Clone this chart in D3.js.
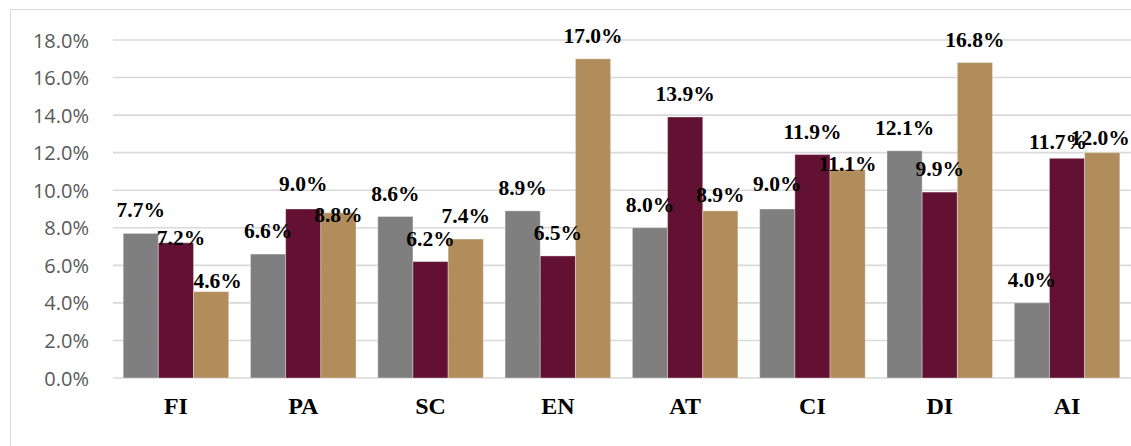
<!DOCTYPE html>
<html>
<head>
<meta charset="utf-8">
<script src="https://cdn.jsdelivr.net/npm/d3@7/dist/d3.min.js"></script>
<style>
  html, body { margin: 0; padding: 0; background: #ffffff; }
  svg { display: block; }
</style>
</head>
<body>
<svg id="chart" width="1131" height="446"></svg>
<script>
// ---- data ----
const categories = ["FI", "PA", "SC", "EN", "AT", "CI", "DI", "AI"];
const seriesNames = ["s1", "s2", "s3"];
const series1 = [7.7, 6.6, 8.6, 8.9, 8.0, 9.0, 12.1, 4.0];
const series2 = [7.2, 9.0, 6.2, 6.5, 13.9, 11.9, 9.9, 11.7];
const series3 = [4.6, 8.8, 7.4, 17.0, 8.9, 11.1, 16.8, 12.0];
const yTicks = [0, 2, 4, 6, 8, 10, 12, 14, 16, 18];

// ---- style / layout ----
const colors = { s1: "#7f7f7f", s2: "#621132", s3: "#b08d5b" };
// label nudges (px) to mimic the manually placed data labels of the original
const labelNudge = {
  "FI-s2": [5, 18], "FI-s3": [6.5, 12], "PA-s3": [0, 25], "PA-s2": [0, -2],
  "AT-s3": [0, 7], "CI-s3": [0, 17.5], "CI-s1": [0, -2],
  "AI-s2": [-9, 7], "AI-s3": [-2, 8]
};

const values = { s1: series1, s2: series2, s3: series3 };
const rows = categories.map((c, i) => ({
  cat: c,
  vals: seriesNames.map(s => ({ cat: c, key: s, v: values[s][i] }))
}));

const svg = d3.select("#chart");

// chart border
svg.append("rect")
  .attr("x", 10.5).attr("y", 9.5)
  .attr("width", 1140).attr("height", 460)
  .attr("fill", "none").attr("stroke", "#d9d9d9").attr("stroke-width", 1);

const plotLeft = 113, plotRight = 1130, plotTop = 40, plotBottom = 378;

const y = d3.scaleLinear().domain([0, 18]).range([plotBottom, plotTop]);
const x0 = d3.scaleBand().domain(categories).range([plotLeft, plotRight])
  .paddingInner(0.171).paddingOuter(0.08);
const x1 = d3.scaleBand().domain(seriesNames).range([0, x0.bandwidth()]);

// gridlines
svg.append("g").selectAll("line").data(yTicks).join("line")
  .attr("x1", plotLeft).attr("x2", 1131)
  .attr("y1", d => y(d)).attr("y2", d => y(d))
  .attr("stroke", "#d9d9d9").attr("stroke-width", 1.6);

// y axis labels
const yAxis = d3.axisLeft(y).tickValues(yTicks).tickSize(0).tickPadding(0)
  .tickFormat(d => d.toFixed(1) + "%");
const ya = svg.append("g").attr("transform", "translate(89,0)").call(yAxis);
ya.select(".domain").remove();
ya.selectAll("text")
  .attr("font-family", "'Open Sans', sans-serif")
  .attr("font-size", 20)
  .attr("fill", "#595959")
  .attr("dy", "0.35em");

// x axis labels
const xAxis = d3.axisBottom(x0).tickSize(0).tickPadding(0);
const xa = svg.append("g").attr("transform", "translate(0,414)").call(xAxis);
xa.select(".domain").remove();
xa.selectAll("text")
  .attr("font-family", "'Liberation Serif', 'Times New Roman', serif")
  .attr("font-weight", "bold")
  .attr("font-size", 24)
  .attr("fill", "#000")
  .attr("dy", 0);

// bars
const groups = svg.append("g").selectAll("g").data(rows).join("g")
  .attr("transform", d => `translate(${x0(d.cat)},0)`);

groups.selectAll("rect").data(d => d.vals).join("rect")
  .attr("x", d => x1(d.key))
  .attr("y", d => y(d.v))
  .attr("width", x1.bandwidth())
  .attr("height", d => y(0) - y(d.v))
  .attr("fill", d => colors[d.key])
  .attr("stroke", "rgba(255,255,255,0.35)")
  .attr("stroke-width", 1);

// data labels
groups.selectAll("text").data(d => d.vals).join("text")
  .attr("x", d => x1(d.key) + x1.bandwidth() / 2 + (labelNudge[d.cat + "-" + d.key] || [0, 0])[0])
  .attr("y", d => y(d.v) - 16 + (labelNudge[d.cat + "-" + d.key] || [0, 0])[1])
  .attr("text-anchor", "middle")
  .attr("font-family", "'Liberation Serif', 'Times New Roman', serif")
  .attr("font-weight", "bold")
  .attr("font-size", 21.5)
  .attr("fill", "#000")
  .text(d => d.v.toFixed(1) + "%");
</script>
</body>
</html>
